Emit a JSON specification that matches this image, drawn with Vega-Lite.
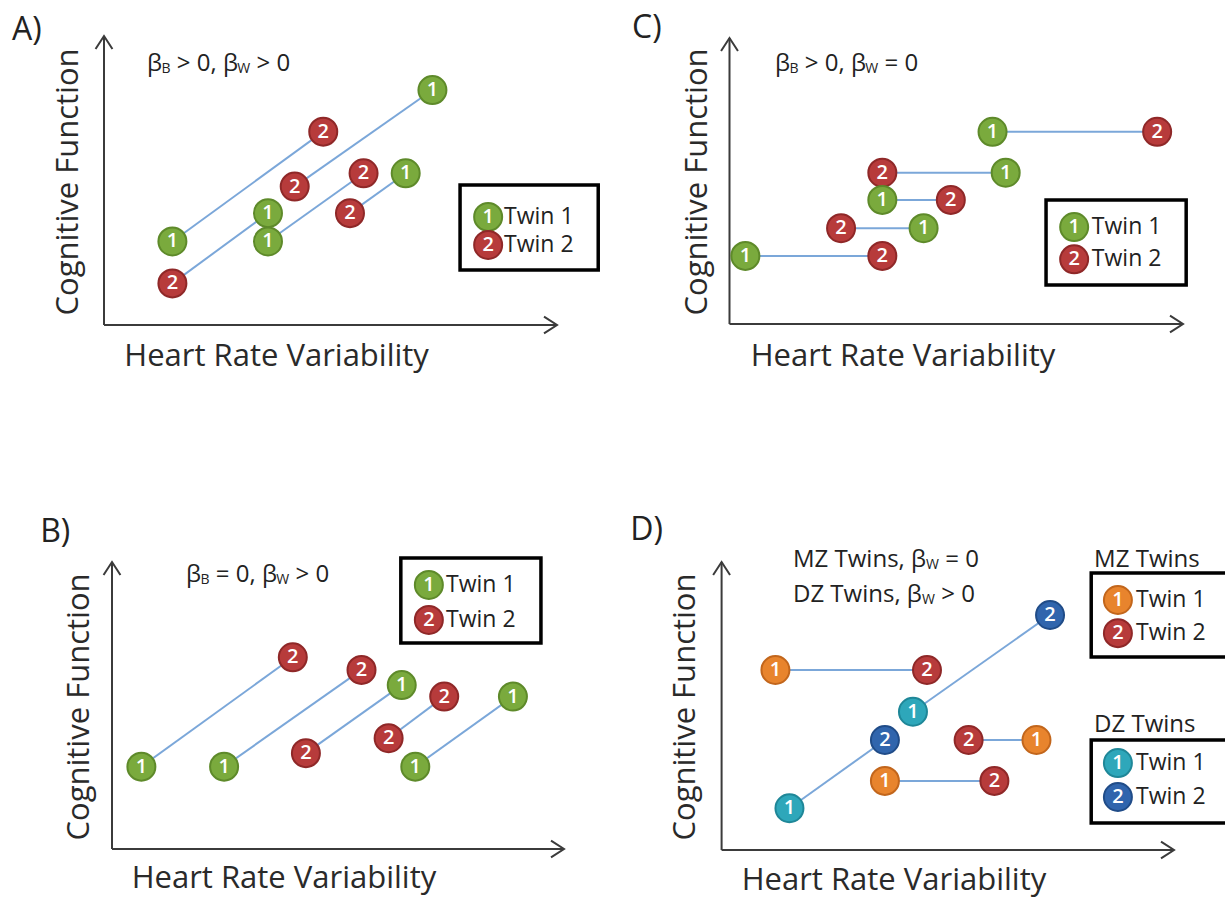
{
"$schema": "https://vega.github.io/schema/vega-lite/v6.json",
"padding": 0,
"background": "white",
"bounds": "flush",
"spacing": 0,
"columns": 2,
"config": {"view": {"stroke": null}, "concat": {"spacing": 0}, "text": {"font": "Open Sans"}},
"datasets": {
"axes": [{"x":0,"y":0,"x2":100,"y2":0},{"x":0,"y":0,"x2":0,"y2":100}],
"arrows": [{"x":100,"y":0,"dir":"right"},{"x":0,"y":100,"dir":"up"}],
"A_pts": [
{"pair":1,"twin":"1","cat":"Twin 1","x":15.1,"y":28.9},
{"pair":1,"twin":"2","cat":"Twin 2","x":48.4,"y":66.9},
{"pair":2,"twin":"1","cat":"Twin 1","x":36.2,"y":38.7},
{"pair":2,"twin":"2","cat":"Twin 2","x":15.1,"y":14.4},
{"pair":3,"twin":"1","cat":"Twin 1","x":72.5,"y":81.3},
{"pair":3,"twin":"2","cat":"Twin 2","x":42.1,"y":47.9},
{"pair":4,"twin":"1","cat":"Twin 1","x":36.2,"y":28.9},
{"pair":4,"twin":"2","cat":"Twin 2","x":57.3,"y":52.5},
{"pair":5,"twin":"1","cat":"Twin 1","x":66.6,"y":52.5},
{"pair":5,"twin":"2","cat":"Twin 2","x":54.3,"y":38.7}],
"A_leg": [{"twin":"1","cat":"Twin 1","x":84.8,"y":37.4},{"twin":"2","cat":"Twin 2","x":84.8,"y":27.7}],
"A_box": [{"x":78.6,"x2":109.1,"y":19.0,"y2":48.4}],
"A_txt": [
{"t":"A)","kind":"panel","x":-20.3,"y":102.1},
{"t":"Cognitive Function","kind":"ytitle","x":-7.7,"y":49.5},
{"t":"Heart Rate Variability","kind":"xtitle","x":38.1,"y":-11.1},
{"t":"β","kind":"eq","x":9.49,"y":90.3},
{"t":"B","kind":"sub","x":12.72,"y":88.6},
{"t":"> 0, β","kind":"eq","x":16.07,"y":90.3},
{"t":"W","kind":"sub","x":29.43,"y":88.6},
{"t":"> 0","kind":"eq","x":33.66,"y":90.3},
{"t":"Twin 1","kind":"leg","x":88.3,"y":37.4},
{"t":"Twin 2","kind":"leg","x":88.3,"y":27.7}],
"C_pts": [
{"pair":1,"twin":"1","cat":"Twin 1","x":58.0,"y":67.2},
{"pair":1,"twin":"2","cat":"Twin 2","x":94.3,"y":67.2},
{"pair":2,"twin":"1","cat":"Twin 1","x":60.9,"y":52.9},
{"pair":2,"twin":"2","cat":"Twin 2","x":33.7,"y":52.9},
{"pair":3,"twin":"1","cat":"Twin 1","x":33.7,"y":43.4},
{"pair":3,"twin":"2","cat":"Twin 2","x":48.8,"y":43.4},
{"pair":4,"twin":"1","cat":"Twin 1","x":42.8,"y":33.5},
{"pair":4,"twin":"2","cat":"Twin 2","x":24.6,"y":33.5},
{"pair":5,"twin":"1","cat":"Twin 1","x":3.5,"y":23.8},
{"pair":5,"twin":"2","cat":"Twin 2","x":33.7,"y":23.8}],
"C_leg": [{"twin":"1","cat":"Twin 1","x":76.0,"y":33.9},{"twin":"2","cat":"Twin 2","x":76.0,"y":22.6}],
"C_box": [{"x":69.8,"x2":100.7,"y":13.6,"y2":43.4}],
"C_txt": [
{"t":"C)","kind":"panel","x":-21.5,"y":103.5},
{"t":"Cognitive Function","kind":"ytitle","x":-6.95,"y":49.65},
{"t":"Heart Rate Variability","kind":"xtitle","x":38.26,"y":-11.54},
{"t":"β","kind":"eq","x":10.03,"y":90.9},
{"t":"B","kind":"sub","x":13.25,"y":89.2},
{"t":"> 0, β","kind":"eq","x":16.61,"y":90.9},
{"t":"W","kind":"sub","x":29.95,"y":89.2},
{"t":"= 0","kind":"eq","x":34.18,"y":90.9},
{"t":"Twin 1","kind":"leg","x":79.9,"y":33.9},
{"t":"Twin 2","kind":"leg","x":79.9,"y":22.6}],
"B_pts": [
{"pair":1,"twin":"1","cat":"Twin 1","x":6.5,"y":28.7},
{"pair":1,"twin":"2","cat":"Twin 2","x":40.0,"y":66.8},
{"pair":2,"twin":"1","cat":"Twin 1","x":24.8,"y":28.7},
{"pair":2,"twin":"2","cat":"Twin 2","x":55.2,"y":62.4},
{"pair":3,"twin":"2","cat":"Twin 2","x":42.9,"y":33.4},
{"pair":3,"twin":"1","cat":"Twin 1","x":64.1,"y":57.1},
{"pair":4,"twin":"2","cat":"Twin 2","x":61.2,"y":38.6},
{"pair":4,"twin":"2","cat":"Twin 2","x":73.5,"y":53.1},
{"pair":5,"twin":"1","cat":"Twin 1","x":67.1,"y":28.7},
{"pair":5,"twin":"1","cat":"Twin 1","x":88.7,"y":53.1}],
"B_leg": [{"twin":"1","cat":"Twin 1","x":70.1,"y":92.0},{"twin":"2","cat":"Twin 2","x":70.1,"y":79.8}],
"B_box": [{"x":63.9,"x2":94.9,"y":71.8,"y2":101.4}],
"B_txt": [
{"t":"B)","kind":"panel","x":-15.9,"y":110.5},
{"t":"Cognitive Function","kind":"ytitle","x":-7.08,"y":49.48},
{"t":"Heart Rate Variability","kind":"xtitle","x":38.05,"y":-10.6},
{"t":"β","kind":"eq","x":16.37,"y":95.5},
{"t":"B","kind":"sub","x":19.6,"y":93.7},
{"t":"= 0, β","kind":"eq","x":22.96,"y":95.5},
{"t":"W","kind":"sub","x":36.35,"y":93.7},
{"t":"> 0","kind":"eq","x":40.6,"y":95.5},
{"t":"Twin 1","kind":"leg","x":73.9,"y":92.0},
{"t":"Twin 2","kind":"leg","x":73.9,"y":79.8}],
"D_pts": [
{"pair":1,"twin":"1","cat":"MZ Twin 1","x":11.9,"y":62.5},
{"pair":1,"twin":"2","cat":"MZ Twin 2","x":45.4,"y":62.5},
{"pair":2,"twin":"2","cat":"MZ Twin 2","x":54.6,"y":38.2},
{"pair":2,"twin":"1","cat":"MZ Twin 1","x":69.6,"y":38.2},
{"pair":3,"twin":"1","cat":"MZ Twin 1","x":36.1,"y":24.0},
{"pair":3,"twin":"2","cat":"MZ Twin 2","x":60.3,"y":24.0},
{"pair":4,"twin":"1","cat":"DZ Twin 1","x":42.3,"y":48.0},
{"pair":4,"twin":"2","cat":"DZ Twin 2","x":72.6,"y":81.6},
{"pair":5,"twin":"1","cat":"DZ Twin 1","x":15.0,"y":14.5},
{"pair":5,"twin":"2","cat":"DZ Twin 2","x":36.1,"y":38.2}],
"D_leg": [
{"twin":"1","cat":"MZ Twin 1","x":87.6,"y":86.8},
{"twin":"2","cat":"MZ Twin 2","x":87.6,"y":75.3},
{"twin":"1","cat":"DZ Twin 1","x":87.6,"y":30.2},
{"twin":"2","cat":"DZ Twin 2","x":87.6,"y":18.4}],
"D_box": [{"x":81.7,"x2":115,"y":67.0,"y2":96.2},{"x":81.7,"x2":115,"y":9.4,"y2":38.2}],
"D_txt": [
{"t":"D)","kind":"panel","x":-20.2,"y":111.1},
{"t":"Cognitive Function","kind":"ytitle","x":-7.87,"y":49.65},
{"t":"Heart Rate Variability","kind":"xtitle","x":38.1,"y":-10.6},
{"t":"MZ Twins, β","kind":"eq","x":15.78,"y":100.7},
{"t":"W","kind":"sub","x":45.16,"y":99.0},
{"t":"= 0","kind":"eq","x":49.43,"y":100.7},
{"t":"DZ Twins, β","kind":"eq","x":15.78,"y":88.5},
{"t":"W","kind":"sub","x":44.28,"y":86.8},
{"t":"> 0","kind":"eq","x":48.55,"y":88.5},
{"t":"MZ Twins","kind":"eq","x":82.34,"y":100.7},
{"t":"DZ Twins","kind":"eq","x":82.34,"y":43.4},
{"t":"Twin 1","kind":"leg","x":91.6,"y":86.8},
{"t":"Twin 2","kind":"leg","x":91.6,"y":75.3},
{"t":"Twin 1","kind":"leg","x":91.6,"y":30.2},
{"t":"Twin 2","kind":"leg","x":91.6,"y":18.4}]
},
"concat": [
{"width": 612, "height": 448,
 "encoding": {
  "x": {"field":"x","type":"quantitative","scale":{"domain":[-22.958,112.141],"nice":false,"zero":false},"axis":null},
  "y": {"field":"y","type":"quantitative","scale":{"domain":[-42.561,112.457],"nice":false,"zero":false},"axis":null}},
 "layer": [
  {"data":{"name":"axes"},"mark":{"type":"rule","color":"#3b3b3b","strokeWidth":2},"encoding":{"x2":{"field":"x2"},"y2":{"field":"y2"}}},
  {"data":{"name":"arrows"},"mark":{"type":"point","filled":false,"color":"#3b3b3b","strokeWidth":2,"opacity":1,"size":676},"encoding":{"shape":{"field":"dir","type":"nominal","scale":{"domain":["right","up"],"range":["M -1 -0.65 L 0 0 L -1 0.65","M -0.65 1 L 0 0 L 0.65 1"]},"legend":null}}},
  {"data":{"name":"A_pts"},"mark":{"type":"line","color":"#7ba7d9","strokeWidth":2},"encoding":{"detail":{"field":"pair","type":"nominal"}}},
  {"data":{"name":"A_pts"},"mark":{"type":"circle","size":784,"opacity":1,"strokeWidth":2},"encoding":{"fill":{"field":"cat","type":"nominal","scale":{"domain":["Twin 1","Twin 2","MZ Twin 1","MZ Twin 2","DZ Twin 1","DZ Twin 2"],"range":["#7aaa3d","#b73b3b","#e8842d","#b73b3b","#2ea7ba","#3065ad"]},"legend":null},"stroke":{"field":"cat","type":"nominal","scale":{"domain":["Twin 1","Twin 2","MZ Twin 1","MZ Twin 2","DZ Twin 1","DZ Twin 2"],"range":["#5e8a2a","#8f2828","#c2661c","#8f2828","#1f8798","#204c88"]},"legend":null}}},
  {"data":{"name":"A_pts"},"mark":{"type":"text","color":"white","fontSize":20,"font":"Open Sans","fontWeight":600,"align":"center","baseline":"middle"},"encoding":{"text":{"field":"twin"}}},
  {"data":{"name":"A_box"},"mark":{"type":"rect","fill":"white","stroke":"black","strokeWidth":3.5},"encoding":{"x2":{"field":"x2"},"y2":{"field":"y2"}}},
  {"data":{"name":"A_leg"},"mark":{"type":"circle","size":784,"opacity":1,"strokeWidth":2},"encoding":{"fill":{"field":"cat","type":"nominal","legend":null},"stroke":{"field":"cat","type":"nominal","legend":null}}},
  {"data":{"name":"A_leg"},"mark":{"type":"text","color":"white","fontSize":20,"font":"Open Sans","fontWeight":600,"align":"center","baseline":"middle"},"encoding":{"text":{"field":"twin"}}},
  {"data":{"name":"A_txt"},"transform":[{"filter":"datum.kind === 'panel'"}],"mark":{"type":"text","fontSize":32,"align":"left","baseline":"middle","color":"#222"},"encoding":{"text":{"field":"t"}}},
  {"data":{"name":"A_txt"},"transform":[{"filter":"datum.kind === 'ytitle'"}],"mark":{"type":"text","fontSize":31,"angle":270,"align":"center","baseline":"middle","color":"#2a2a2a"},"encoding":{"text":{"field":"t"}}},
  {"data":{"name":"A_txt"},"transform":[{"filter":"datum.kind === 'xtitle'"}],"mark":{"type":"text","fontSize":31,"align":"center","baseline":"middle","color":"#2a2a2a"},"encoding":{"text":{"field":"t"}}},
  {"data":{"name":"A_txt"},"transform":[{"filter":"datum.kind === 'eq'"}],"mark":{"type":"text","fontSize":24,"align":"left","baseline":"middle","color":"#222"},"encoding":{"text":{"field":"t"}}},
  {"data":{"name":"A_txt"},"transform":[{"filter":"datum.kind === 'sub'"}],"mark":{"type":"text","fontSize":14,"align":"left","baseline":"middle","color":"#222"},"encoding":{"text":{"field":"t"}}},
  {"data":{"name":"A_txt"},"transform":[{"filter":"datum.kind === 'leg'"}],"mark":{"type":"text","fontSize":23,"align":"left","baseline":"middle","color":"#222"},"encoding":{"text":{"field":"t"}}}
 ]},
{"width": 613, "height": 448,
 "encoding": {
  "x": {"field":"x","type":"quantitative","scale":{"domain":[-25.910,109.261],"nice":false,"zero":false},"axis":null},
  "y": {"field":"y","type":"quantitative","scale":{"domain":[-43.357,113.287],"nice":false,"zero":false},"axis":null}},
 "layer": [
  {"data":{"name":"axes"},"mark":{"type":"rule","color":"#3b3b3b","strokeWidth":2},"encoding":{"x2":{"field":"x2"},"y2":{"field":"y2"}}},
  {"data":{"name":"arrows"},"mark":{"type":"point","filled":false,"color":"#3b3b3b","strokeWidth":2,"opacity":1,"size":676},"encoding":{"shape":{"field":"dir","type":"nominal","legend":null}}},
  {"data":{"name":"C_pts"},"mark":{"type":"line","color":"#7ba7d9","strokeWidth":2},"encoding":{"detail":{"field":"pair","type":"nominal"}}},
  {"data":{"name":"C_pts"},"mark":{"type":"circle","size":784,"opacity":1,"strokeWidth":2},"encoding":{"fill":{"field":"cat","type":"nominal","legend":null},"stroke":{"field":"cat","type":"nominal","legend":null}}},
  {"data":{"name":"C_pts"},"mark":{"type":"text","color":"white","fontSize":20,"font":"Open Sans","fontWeight":600,"align":"center","baseline":"middle"},"encoding":{"text":{"field":"twin"}}},
  {"data":{"name":"C_box"},"mark":{"type":"rect","fill":"white","stroke":"black","strokeWidth":3.5},"encoding":{"x2":{"field":"x2"},"y2":{"field":"y2"}}},
  {"data":{"name":"C_leg"},"mark":{"type":"circle","size":784,"opacity":1,"strokeWidth":2},"encoding":{"fill":{"field":"cat","type":"nominal","legend":null},"stroke":{"field":"cat","type":"nominal","legend":null}}},
  {"data":{"name":"C_leg"},"mark":{"type":"text","color":"white","fontSize":20,"font":"Open Sans","fontWeight":600,"align":"center","baseline":"middle"},"encoding":{"text":{"field":"twin"}}},
  {"data":{"name":"C_txt"},"transform":[{"filter":"datum.kind === 'panel'"}],"mark":{"type":"text","fontSize":32,"align":"left","baseline":"middle","color":"#222"},"encoding":{"text":{"field":"t"}}},
  {"data":{"name":"C_txt"},"transform":[{"filter":"datum.kind === 'ytitle'"}],"mark":{"type":"text","fontSize":31,"angle":270,"align":"center","baseline":"middle","color":"#2a2a2a"},"encoding":{"text":{"field":"t"}}},
  {"data":{"name":"C_txt"},"transform":[{"filter":"datum.kind === 'xtitle'"}],"mark":{"type":"text","fontSize":31,"align":"center","baseline":"middle","color":"#2a2a2a"},"encoding":{"text":{"field":"t"}}},
  {"data":{"name":"C_txt"},"transform":[{"filter":"datum.kind === 'eq'"}],"mark":{"type":"text","fontSize":24,"align":"left","baseline":"middle","color":"#222"},"encoding":{"text":{"field":"t"}}},
  {"data":{"name":"C_txt"},"transform":[{"filter":"datum.kind === 'sub'"}],"mark":{"type":"text","fontSize":14,"align":"left","baseline":"middle","color":"#222"},"encoding":{"text":{"field":"t"}}},
  {"data":{"name":"C_txt"},"transform":[{"filter":"datum.kind === 'leg'"}],"mark":{"type":"text","fontSize":23,"align":"left","baseline":"middle","color":"#222"},"encoding":{"text":{"field":"t"}}}
 ]},
{"width": 612, "height": 449,
 "encoding": {
  "x": {"field":"x","type":"quantitative","scale":{"domain":[-24.779,110.619],"nice":false,"zero":false},"axis":null},
  "y": {"field":"y","type":"quantitative","scale":{"domain":[-16.725,139.721],"nice":false,"zero":false},"axis":null}},
 "layer": [
  {"data":{"name":"axes"},"mark":{"type":"rule","color":"#3b3b3b","strokeWidth":2},"encoding":{"x2":{"field":"x2"},"y2":{"field":"y2"}}},
  {"data":{"name":"arrows"},"mark":{"type":"point","filled":false,"color":"#3b3b3b","strokeWidth":2,"opacity":1,"size":676},"encoding":{"shape":{"field":"dir","type":"nominal","legend":null}}},
  {"data":{"name":"B_pts"},"mark":{"type":"line","color":"#7ba7d9","strokeWidth":2},"encoding":{"detail":{"field":"pair","type":"nominal"}}},
  {"data":{"name":"B_pts"},"mark":{"type":"circle","size":784,"opacity":1,"strokeWidth":2},"encoding":{"fill":{"field":"cat","type":"nominal","legend":null},"stroke":{"field":"cat","type":"nominal","legend":null}}},
  {"data":{"name":"B_pts"},"mark":{"type":"text","color":"white","fontSize":20,"font":"Open Sans","fontWeight":600,"align":"center","baseline":"middle"},"encoding":{"text":{"field":"twin"}}},
  {"data":{"name":"B_box"},"mark":{"type":"rect","fill":"white","stroke":"black","strokeWidth":3.5},"encoding":{"x2":{"field":"x2"},"y2":{"field":"y2"}}},
  {"data":{"name":"B_leg"},"mark":{"type":"circle","size":784,"opacity":1,"strokeWidth":2},"encoding":{"fill":{"field":"cat","type":"nominal","legend":null},"stroke":{"field":"cat","type":"nominal","legend":null}}},
  {"data":{"name":"B_leg"},"mark":{"type":"text","color":"white","fontSize":20,"font":"Open Sans","fontWeight":600,"align":"center","baseline":"middle"},"encoding":{"text":{"field":"twin"}}},
  {"data":{"name":"B_txt"},"transform":[{"filter":"datum.kind === 'panel'"}],"mark":{"type":"text","fontSize":32,"align":"left","baseline":"middle","color":"#222"},"encoding":{"text":{"field":"t"}}},
  {"data":{"name":"B_txt"},"transform":[{"filter":"datum.kind === 'ytitle'"}],"mark":{"type":"text","fontSize":31,"angle":270,"align":"center","baseline":"middle","color":"#2a2a2a"},"encoding":{"text":{"field":"t"}}},
  {"data":{"name":"B_txt"},"transform":[{"filter":"datum.kind === 'xtitle'"}],"mark":{"type":"text","fontSize":31,"align":"center","baseline":"middle","color":"#2a2a2a"},"encoding":{"text":{"field":"t"}}},
  {"data":{"name":"B_txt"},"transform":[{"filter":"datum.kind === 'eq'"}],"mark":{"type":"text","fontSize":24,"align":"left","baseline":"middle","color":"#222"},"encoding":{"text":{"field":"t"}}},
  {"data":{"name":"B_txt"},"transform":[{"filter":"datum.kind === 'sub'"}],"mark":{"type":"text","fontSize":14,"align":"left","baseline":"middle","color":"#222"},"encoding":{"text":{"field":"t"}}},
  {"data":{"name":"B_txt"},"transform":[{"filter":"datum.kind === 'leg'"}],"mark":{"type":"text","fontSize":23,"align":"left","baseline":"middle","color":"#222"},"encoding":{"text":{"field":"t"}}}
 ]},
{"width": 613, "height": 449,
 "encoding": {
  "x": {"field":"x","type":"quantitative","scale":{"domain":[-24.226,111.273],"nice":false,"zero":false},"axis":null},
  "y": {"field":"y","type":"quantitative","scale":{"domain":[-16.319,139.583],"nice":false,"zero":false},"axis":null}},
 "layer": [
  {"data":{"name":"axes"},"mark":{"type":"rule","color":"#3b3b3b","strokeWidth":2},"encoding":{"x2":{"field":"x2"},"y2":{"field":"y2"}}},
  {"data":{"name":"arrows"},"mark":{"type":"point","filled":false,"color":"#3b3b3b","strokeWidth":2,"opacity":1,"size":676},"encoding":{"shape":{"field":"dir","type":"nominal","legend":null}}},
  {"data":{"name":"D_pts"},"mark":{"type":"line","color":"#7ba7d9","strokeWidth":2},"encoding":{"detail":{"field":"pair","type":"nominal"}}},
  {"data":{"name":"D_pts"},"mark":{"type":"circle","size":784,"opacity":1,"strokeWidth":2},"encoding":{"fill":{"field":"cat","type":"nominal","legend":null},"stroke":{"field":"cat","type":"nominal","legend":null}}},
  {"data":{"name":"D_pts"},"mark":{"type":"text","color":"white","fontSize":20,"font":"Open Sans","fontWeight":600,"align":"center","baseline":"middle"},"encoding":{"text":{"field":"twin"}}},
  {"data":{"name":"D_box"},"mark":{"type":"rect","fill":"white","stroke":"black","strokeWidth":3.5,"clip":true},"encoding":{"x2":{"field":"x2"},"y2":{"field":"y2"}}},
  {"data":{"name":"D_leg"},"mark":{"type":"circle","size":784,"opacity":1,"strokeWidth":2},"encoding":{"fill":{"field":"cat","type":"nominal","legend":null},"stroke":{"field":"cat","type":"nominal","legend":null}}},
  {"data":{"name":"D_leg"},"mark":{"type":"text","color":"white","fontSize":20,"font":"Open Sans","fontWeight":600,"align":"center","baseline":"middle"},"encoding":{"text":{"field":"twin"}}},
  {"data":{"name":"D_txt"},"transform":[{"filter":"datum.kind === 'panel'"}],"mark":{"type":"text","fontSize":32,"align":"left","baseline":"middle","color":"#222"},"encoding":{"text":{"field":"t"}}},
  {"data":{"name":"D_txt"},"transform":[{"filter":"datum.kind === 'ytitle'"}],"mark":{"type":"text","fontSize":31,"angle":270,"align":"center","baseline":"middle","color":"#2a2a2a"},"encoding":{"text":{"field":"t"}}},
  {"data":{"name":"D_txt"},"transform":[{"filter":"datum.kind === 'xtitle'"}],"mark":{"type":"text","fontSize":31,"align":"center","baseline":"middle","color":"#2a2a2a"},"encoding":{"text":{"field":"t"}}},
  {"data":{"name":"D_txt"},"transform":[{"filter":"datum.kind === 'eq'"}],"mark":{"type":"text","fontSize":24,"align":"left","baseline":"middle","color":"#222"},"encoding":{"text":{"field":"t"}}},
  {"data":{"name":"D_txt"},"transform":[{"filter":"datum.kind === 'sub'"}],"mark":{"type":"text","fontSize":14,"align":"left","baseline":"middle","color":"#222"},"encoding":{"text":{"field":"t"}}},
  {"data":{"name":"D_txt"},"transform":[{"filter":"datum.kind === 'leg'"}],"mark":{"type":"text","fontSize":23,"align":"left","baseline":"middle","color":"#222"},"encoding":{"text":{"field":"t"}}}
 ]}
]
}
